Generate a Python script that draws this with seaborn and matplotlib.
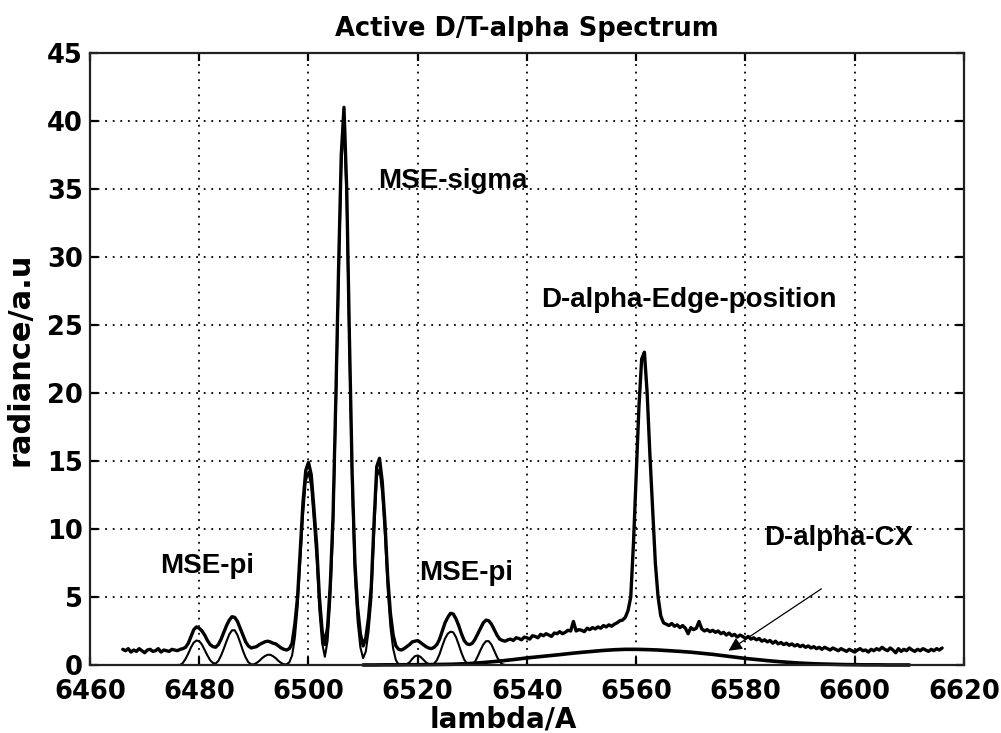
import numpy as np
import pandas as pd
import matplotlib
matplotlib.use("Agg")
import matplotlib.pyplot as plt
import seaborn as sns

# ---------------- data ----------------
# measured spectrum, sampled every 0.5 A from 6466.0 to 6616.0 (one row = 5 A)
measured_start, measured_step = 6466.0, 0.5
measured = [
    1.15, 1.05, 1.20, 0.95, 1.10, 1.00, 1.20, 1.05, 0.90, 1.10,   # 6466
    1.15, 1.00, 1.05, 1.20, 0.95, 1.10, 1.05, 1.00, 1.15, 1.10,   # 6471
    1.05, 1.15, 1.20, 1.30, 1.60, 2.10, 2.60, 2.80, 2.70, 2.50,   # 6476
    2.20, 1.80, 1.50, 1.35, 1.30, 1.50, 1.90, 2.40, 2.90, 3.30,   # 6481
    3.55, 3.50, 3.20, 2.70, 2.20, 1.70, 1.40, 1.25, 1.30, 1.35,   # 6486
    1.50, 1.60, 1.70, 1.75, 1.70, 1.60, 1.55, 1.40, 1.25, 1.15,   # 6491
    1.10, 1.20, 1.60, 3.00, 5.00, 8.50, 12.0, 14.3, 14.9, 14.0,   # 6496
    11.5, 8.80, 5.00, 2.50, 1.50, 2.80, 6.00, 11.0, 19.5, 29.0,   # 6501
    37.5, 41.0, 35.0, 24.0, 14.0, 7.50, 4.20, 2.30, 1.40, 2.00,   # 6506
    3.50, 5.80, 10.5, 14.6, 15.2, 13.5, 10.5, 6.50, 3.80, 2.20,   # 6511
    1.40, 1.15, 1.10, 1.20, 1.35, 1.50, 1.70, 1.75, 1.80, 1.65,   # 6516
    1.50, 1.35, 1.25, 1.20, 1.30, 1.50, 1.90, 2.50, 3.10, 3.50,   # 6521
    3.80, 3.75, 3.40, 2.90, 2.30, 1.80, 1.55, 1.50, 1.60, 1.90,   # 6526
    2.30, 2.70, 3.10, 3.30, 3.25, 3.00, 2.60, 2.20, 1.90, 1.80,   # 6531
    1.75, 1.85, 1.90, 1.80, 2.00, 1.95, 1.85, 2.05, 2.00, 1.90,   # 6536
    2.15, 2.10, 2.00, 2.25, 2.15, 2.30, 2.20, 2.10, 2.35, 2.30,   # 6541
    2.45, 2.30, 2.40, 2.55, 2.50, 3.20, 2.50, 2.60, 2.55, 2.45,   # 6546
    2.70, 2.60, 2.75, 2.65, 2.80, 2.70, 2.90, 2.80, 2.95, 2.85,   # 6551
    3.00, 3.10, 3.25, 3.30, 3.50, 4.00, 5.00, 9.00, 14.0, 19.0,   # 6556
    22.5, 23.0, 20.0, 15.5, 11.5, 7.50, 5.00, 3.60, 3.10, 3.00,   # 6561
    2.90, 3.05, 2.85, 2.95, 2.75, 2.90, 2.70, 2.30, 2.75, 2.60,   # 6566
    2.70, 3.20, 2.65, 2.50, 2.60, 2.45, 2.55, 2.40, 2.50, 2.30,   # 6571
    2.40, 2.20, 2.35, 2.15, 2.25, 2.05, 2.20, 2.10, 1.95, 2.10,   # 6576
    1.90, 2.00, 1.85, 1.95, 1.75, 1.85, 1.70, 1.80, 1.60, 1.75,   # 6581
    1.55, 1.65, 1.50, 1.60, 1.45, 1.55, 1.40, 1.50, 1.35, 1.45,   # 6586
    1.30, 1.40, 1.25, 1.35, 1.20, 1.30, 1.15, 1.30, 1.20, 1.10,   # 6591
    1.25, 1.15, 1.05, 1.20, 1.10, 1.00, 1.15, 1.05, 0.95, 1.10,   # 6596
    1.20, 1.05, 1.10, 0.95, 1.15, 1.05, 1.20, 1.10, 1.30, 1.15,   # 6601
    1.05, 1.25, 1.10, 0.90, 1.20, 1.00, 1.15, 1.05, 1.25, 1.10,   # 6606
    1.00, 1.15, 1.05, 1.20, 1.10, 1.00, 1.15, 1.05, 1.20, 1.10,   # 6611
    1.25,                                                          # 6616
]

# fitted MSE (pi + sigma) components, every 0.5 A from 6476.0 to 6536.0
mse_start, mse_step = 6476.0, 0.5
mse_fit = [
    0.00, 0.00, 0.15, 0.45, 0.85, 1.30, 1.65, 1.80, 1.75, 1.50,   # 6476
    1.10, 0.70, 0.35, 0.15, 0.10, 0.30, 0.70, 1.20, 1.75, 2.25,   # 6481
    2.55, 2.55, 2.20, 1.65, 1.05, 0.55, 0.20, 0.05, 0.05, 0.15,   # 6486
    0.30, 0.50, 0.65, 0.75, 0.75, 0.65, 0.50, 0.30, 0.15, 0.05,   # 6491
    0.05, 0.20, 0.70, 2.00, 4.20, 7.60, 11.0, 13.5, 14.2, 13.1,   # 6496
    10.5, 7.70, 4.00, 1.60, 0.60, 1.80, 4.90, 10.0, 18.5, 28.0,   # 6501
    36.5, 40.0, 34.0, 23.0, 13.0, 6.50, 3.20, 1.30, 0.50, 1.00,   # 6506
    2.50, 4.80, 9.50, 13.8, 14.4, 12.6, 9.50, 5.60, 2.80, 1.20,   # 6511
    0.35, 0.05, 0.00, 0.00, 0.05, 0.20, 0.45, 0.65, 0.70, 0.60,   # 6516
    0.40, 0.20, 0.05, 0.00, 0.10, 0.35, 0.80, 1.40, 1.95, 2.30,   # 6521
    2.45, 2.40, 2.05, 1.50, 0.90, 0.40, 0.10, 0.00, 0.05, 0.25,   # 6526
    0.65, 1.10, 1.50, 1.75, 1.75, 1.50, 1.05, 0.60, 0.25, 0.05,   # 6531
    0.00,                                                          # 6536
]

# broad charge-exchange D-alpha component, every 2 A from 6510 to 6610
cx_start, cx_step = 6510.0, 2.0
cx_fit = [
    0.00, 0.00, 0.01, 0.01, 0.02, 0.02, 0.03, 0.04, 0.05, 0.08,   # 6510
    0.12, 0.18, 0.25, 0.33, 0.42, 0.52, 0.60, 0.68, 0.76, 0.85,   # 6530
    0.93, 1.00, 1.07, 1.12, 1.15, 1.15, 1.13, 1.10, 1.05, 1.00,   # 6550
    0.94, 0.86, 0.78, 0.68, 0.58, 0.48, 0.40, 0.32, 0.25, 0.19,   # 6570
    0.14, 0.10, 0.07, 0.05, 0.03, 0.02, 0.01, 0.01, 0.00, 0.00,   # 6590
    0.00,                                                          # 6610
]

x_ticks = [6460, 6480, 6500, 6520, 6540, 6560, 6580, 6600, 6620]
y_ticks = [0, 5, 10, 15, 20, 25, 30, 35, 40, 45]

labels = [
    ("MSE-sigma", 6512.8, 35.1),
    ("D-alpha-Edge-position", 6542.6, 26.3),
    ("MSE-pi", 6472.8, 6.8),
    ("MSE-pi", 6520.2, 6.25),
    ("D-alpha-CX", 6583.5, 8.8),
]
cx_arrow_tip = (6576.9, 1.05)
cx_arrow_tail = (6593.9, 5.6)


def frame(start, step, values):
    lam = start + step * np.arange(len(values))
    return pd.DataFrame({"lambda": lam, "radiance": values})


df_meas = frame(measured_start, measured_step, measured)
df_mse = frame(mse_start, mse_step, mse_fit)
df_cx = frame(cx_start, cx_step, cx_fit)

# ---------------- plot ----------------
sns.set_style("ticks")
plt.rcParams["font.family"] = ["DejaVu Sans"]
plt.rcParams.update({
    "text.color": "black",
    "axes.labelcolor": "black",
    "xtick.color": "black",
    "ytick.color": "black",
})

fig = plt.figure(figsize=(10.01, 7.33), dpi=100)
ax = fig.add_axes([0.0899, 0.0928, 0.8731, 0.8349])

sns.lineplot(data=df_cx, x="lambda", y="radiance", color="black", lw=2.6,
             ax=ax, clip_on=False)
sns.lineplot(data=df_mse, x="lambda", y="radiance", color="black", lw=1.5,
             ax=ax)
sns.lineplot(data=df_meas, x="lambda", y="radiance", color="black", lw=2.4,
             ax=ax)

ax.set_xlim(6460, 6620)
ax.set_ylim(0, 45)
ax.set_xticks(x_ticks)
ax.set_yticks(y_ticks)
ax.grid(True, color="black", lw=1.3, linestyle=(0, (1, 3.2)))
ax.set_axisbelow(True)

for s in ax.spines.values():
    s.set_visible(True)
    s.set_color("#222222")
    s.set_linewidth(1.6)

ax.tick_params(direction="in", length=6, width=1.6, top=True, right=True,
               colors="black")
ax.tick_params(axis="x", pad=10)
ax.tick_params(axis="y", pad=5)
for lab in ax.get_xticklabels() + ax.get_yticklabels():
    lab.set_fontweight("bold")
    lab.set_fontsize(18.5)
    lab.set_color("black")

ax.set_xlabel("lambda/A", fontsize=20, fontweight="bold", color="black")
ax.set_ylabel("radiance/a.u", fontsize=22, fontweight="bold", color="black")
ax.xaxis.set_label_coords(0.473, -0.066)
ax.yaxis.set_label_coords(-0.064, 0.5)
ax.set_title("Active D/T-alpha Spectrum", fontsize=18.5, fontweight="bold",
             pad=12, color="black")

for text, lx, ly in labels:
    ax.text(lx, ly, text, ha="left", va="baseline", fontsize=20,
            family="Liberation Sans", fontweight="bold", color="black")

ax.annotate("", xy=cx_arrow_tip, xytext=cx_arrow_tail,
            arrowprops=dict(arrowstyle="-|>", color="black", lw=0.9,
                            mutation_scale=20, shrinkA=0, shrinkB=0))

fig.savefig("out.png", dpi=100, facecolor="white")
